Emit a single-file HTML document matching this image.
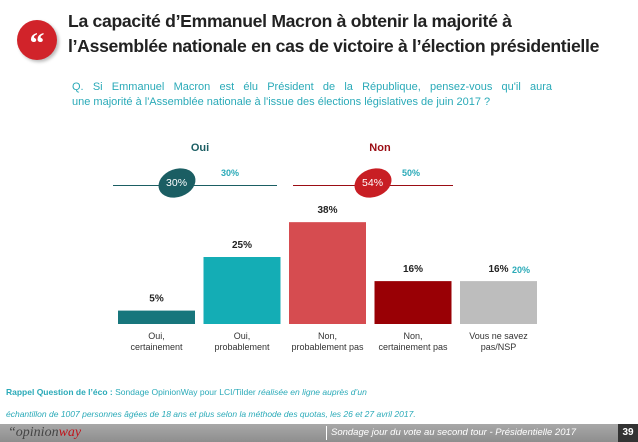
<!DOCTYPE html>
<html><head><meta charset="utf-8">
<style>
body{margin:0;width:638px;height:442px;overflow:hidden;background:#fff;font-family:"Liberation Sans",sans-serif;position:relative}
.abs{position:absolute}
</style></head>
<body>
<div class="abs" style="left:17px;top:20px;width:40px;height:40px;border-radius:50%;background:#d1232a;box-shadow:2px 2px 3px #bbb;color:#fff;font:bold 30px 'Liberation Serif',serif;text-align:center;line-height:48px">“</div>
<div class="abs" style="left:68px;top:9px;font-size:17.6px;font-weight:bold;color:#222;line-height:25px;letter-spacing:-0.3px;white-space:nowrap">La capacité d’Emmanuel Macron à obtenir la majorité à<br>l’Assemblée nationale en cas de victoire à l’élection présidentielle</div>
<div class="abs" style="left:72px;top:80px;width:480px;font-size:11px;color:#2aaab8;line-height:15px;text-align:justify;text-align-last:justify">Q. Si Emmanuel Macron est élu Président de la République, pensez-vous qu'il aura</div>
<div class="abs" style="left:72px;top:95px;font-size:11px;color:#2aaab8;line-height:15px;white-space:nowrap">une majorité à l'Assemblée nationale à l'issue des élections législatives de juin 2017 ?</div>

<div class="abs" style="left:185px;top:142px;width:30px;text-align:center;font-size:11px;font-weight:bold;color:#1b5e63">Oui</div>
<div class="abs" style="left:365px;top:142px;width:30px;text-align:center;font-size:11px;font-weight:bold;color:#9b0d14">Non</div>
<div class="abs" style="left:113px;top:185px;width:164px;height:1px;background:#1b5e63"></div>
<div class="abs" style="left:293px;top:185px;width:160px;height:1px;background:#9b0d14"></div>
<div class="abs" style="left:158px;top:169px;width:38px;height:28px;border-radius:50%;background:#1b5e63;transform:rotate(-20deg);color:#fff;font-size:10.5px;text-align:center;line-height:28px"><span style="display:inline-block;transform:rotate(20deg)">30%</span></div>
<div class="abs" style="left:354px;top:169px;width:38px;height:28px;border-radius:50%;background:#c81e24;transform:rotate(-20deg);color:#fff;font-size:10.5px;text-align:center;line-height:28px"><span style="display:inline-block;transform:rotate(20deg)">54%</span></div>
<div class="abs" style="left:221px;top:168px;font-size:9px;font-weight:bold;color:#2aaab8">30%</div>
<div class="abs" style="left:402px;top:168px;font-size:9px;font-weight:bold;color:#2aaab8">50%</div>

<svg class="abs" style="left:0;top:0" width="638" height="442" id="chart"></svg>
<div class="abs" style="left:512px;top:265px;font-size:9px;font-weight:bold;color:#2aaab8">20%</div>

<div class="abs" style="left:6px;top:381px;font-size:8.5px;color:#2aaab8;line-height:22px;white-space:nowrap"><b>Rappel Question de l’éco :</b> Sondage OpinionWay pour LCI/Tilder <i>réalisée en ligne auprès d’un</i><br><i>échantillon de 1007 personnes âgées de 18 ans et plus selon la méthode des quotas, les 26 et 27 avril 2017.</i></div>

<div class="abs" style="left:0;top:424px;width:638px;height:18px;background:linear-gradient(#a8a8a8,#8e8e8e)"></div>
<div class="abs" style="left:8px;top:425px;font:italic 14px 'Liberation Serif',serif;color:#444">“opinion<span style="color:#c0141b">way</span></div>
<div class="abs" style="left:326px;top:426px;width:1px;height:14px;background:#fff"></div>
<div class="abs" style="left:331px;top:427px;font-size:9.5px;font-style:italic;color:#fff">Sondage jour du vote au second tour - Présidentielle 2017</div>
<div class="abs" style="left:618px;top:424px;width:20px;height:18px;background:#333;color:#fff;font-size:10px;font-weight:bold;text-align:center;line-height:18px">39</div>

<script>
const categories=[["Oui,","certainement"],["Oui,","probablement"],["Non,","probablement pas"],["Non,","certainement pas"],["Vous ne savez","pas/NSP"]];
const values=[5,25,38,16,16];
const valueLabels=["5%","25%","38%","16%","16%"];
const colors=["#17767c","#14adb5","#d64c50","#990005","#bdbdbd"];
const svg=document.getElementById('chart');
const NS='http://www.w3.org/2000/svg';
const baseY=324, pxPer=2.68, x0=118, pitch=85.5, bw=77;
function xPos(i){return x0+i*pitch;}
function yPos(v){return baseY-v*pxPer;}
values.forEach((v,i)=>{
  const r=document.createElementNS(NS,'rect');
  
  
  r.setAttribute('x',xPos(i));r.setAttribute('y',yPos(v));
  r.setAttribute('width',bw);r.setAttribute('height',baseY-yPos(v));
  r.setAttribute('fill',colors[i]);
  svg.appendChild(r);
  const t=document.createElementNS(NS,'text');
  
  
  t.setAttribute('x',xPos(i)+bw/2);t.setAttribute('y',yPos(v)-9);
  t.setAttribute('text-anchor','middle');t.setAttribute('font-size','10');t.setAttribute('font-weight','bold');t.setAttribute('fill','#222');
  t.textContent=valueLabels[i];svg.appendChild(t);
  categories[i].forEach((line,j)=>{
    const c=document.createElementNS(NS,'text');
    
    
    c.setAttribute('x',xPos(i)+bw/2);c.setAttribute('y',339+j*11);
    c.setAttribute('text-anchor','middle');c.setAttribute('font-size','9');c.setAttribute('fill','#333');
    c.textContent=line;svg.appendChild(c);
  });
});
</script>
</body></html>
